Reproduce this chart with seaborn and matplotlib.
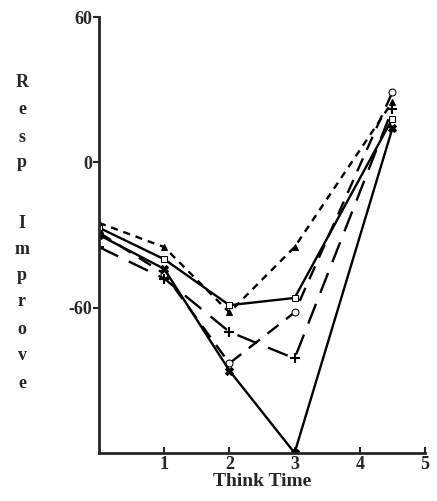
import numpy as np
import pandas as pd
import matplotlib
matplotlib.use("Agg")
import matplotlib.pyplot as plt
import seaborn as sns

# valores
think_time = [0, 1, 2, 3, 4.5]
s_dotted = [-25, -35, -62, -35, 25]
s_square = [-27, -40, -59, -56, 18]
s_circle = [-29, -46, -83, -62, 29]
s_plus = [-35, -48, -70, -81, 22]
s_cross = [-30, -44, -86, -120, 14]

series = {
    "dotted": s_dotted,
    "square": s_square,
    "circle": s_circle,
    "plus": s_plus,
    "cross": s_cross,
}
styles = {
    "dotted": dict(linestyle=(0, (3, 2.5)), marker="^", markersize=5, markerfacecolor="black"),
    "square": dict(linestyle="-", marker="s", markersize=5, markerfacecolor="white"),
    "circle": dict(linestyle=(0, (6, 4)), marker="o", markersize=5, markerfacecolor="white"),
    "plus": dict(linestyle=(0, (9, 5)), marker="+", markersize=7, markeredgewidth=1.5),
    "cross": dict(linestyle="-", marker="X", markersize=6, markerfacecolor="black"),
}

sns.set_style("ticks")
plt.rcParams["font.family"] = ["Liberation Serif", "DejaVu Serif"]
plt.rcParams["font.weight"] = "bold"

fig = plt.figure(figsize=(4.37, 5.01), dpi=100)
ax = fig.add_axes([0.2265, 0.096, 0.746, 0.870])

for name, vals in series.items():
    df = pd.DataFrame({"Think Time": think_time, "Resp": vals})
    sns.lineplot(data=df, x="Think Time", y="Resp", ax=ax, color="black",
                 linewidth=1.7, markeredgecolor="black", **styles[name])

ax.set_xlim(0, 5)
ax.set_ylim(-120, 60)
ax.set_xticks([1, 2, 3, 4, 5])
ax.set_yticks([-60, 0, 60])
ax.set_yticklabels(["-60", "0", "60"], fontsize=13, fontweight="bold")
ax.set_xticklabels(["1", "2", "3", "4", "5"], fontsize=13, fontweight="bold")
ax.tick_params(axis="y", direction="out", length=4, width=1.5, pad=1)
ax.tick_params(axis="x", direction="in", length=4, width=1.5, pad=2)
ax.set_ylabel("")
ax.set_xlabel("Think Time", fontsize=14, fontweight="bold", labelpad=0)
for side in ["top", "right"]:
    ax.spines[side].set_visible(False)
for side in ["left", "bottom"]:
    ax.spines[side].set_linewidth(2)

# etiqueta vertical letra por letra
letters = ["R", "e", "s", "p", "I", "m", "p", "r", "o", "v", "e"]
ypix = [83, 110, 137, 163, 223, 249, 275, 302, 330, 356, 383]
for ch, yp in zip(letters, ypix):
    fig.text(22 / 437, 1 - yp / 501, ch, ha="center", va="center",
             fontsize=13, fontweight="bold")

fig.savefig("out.png", dpi=100)
